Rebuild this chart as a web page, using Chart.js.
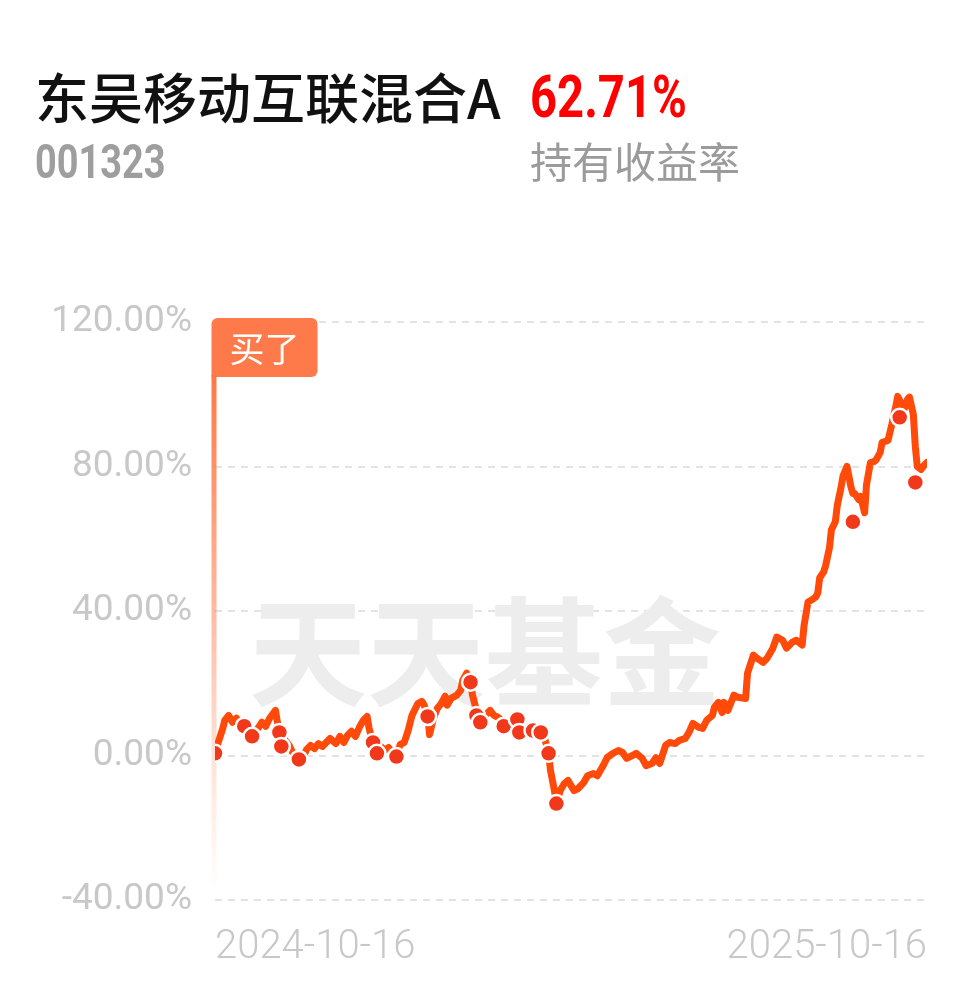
<!DOCTYPE html>
<html>
<head>
<meta charset="utf-8">
<script src="https://cdn.jsdelivr.net/npm/chart.js@4.4.1/dist/chart.umd.min.js"></script>
<style>
  html, body { margin: 0; padding: 0; background: #fff; }
  #wrap { position: relative; width: 978px; height: 986px; overflow: hidden; background: #fff; }
  #c { position: absolute; left: 0; top: 0; }
  .t { position: absolute; white-space: nowrap; line-height: 1; }
  #name { left: 35px; top: 56px; font: 500 54px "Noto Sans CJK SC", sans-serif; color: #111; }
  #ret { left: 530px; top: 62px; font: 700 59px Roboto, sans-serif; color: #ff0000; transform: scaleX(0.8); transform-origin: 0 0; }
  #code { left: 35px; top: 133px; font: 700 48px Roboto, sans-serif; color: #9e9e9e; transform: scaleX(0.79); transform-origin: 0 0; }
  #lbl { left: 530px; top: 129px; font: 400 42px "Noto Sans CJK SC", sans-serif; color: #9b9b9b; }
</style>
</head>
<body>
<div id="wrap">
  <canvas id="c" width="978" height="986"></canvas>
  <div class="t" id="name">东吴移动互联混合A</div>
  <div class="t" id="ret">62.71%</div>
  <div class="t" id="code">001323</div>
  <div class="t" id="lbl">持有收益率</div>
</div>
<script>
// ---- data (day offset from 2024-10-16, holding return %) ----
const days = [0,2,4,5,7,9,11,13,15,17,19,22,24,26,28,31,32,34,36,38,40,43,45,47,49,51,53,55,57,59,62,64,66,68,70,72,74,76,78,79,81,83,85,87,89,91,93,95,97,99,101,104,106,107,109,110,112,114,116,118,119,121,124,126,127,129,131,132,134,135,137,139,141,143,145,147,149,151,154,156,158,160,162,165,168,169,171,172,174,175,177,179,181,184,186,189,191,194,196,199,201,204,207,209,211,214,216,219,221,224,226,228,231,233,236,238,241,243,245,248,250,252,255,256,258,260,261,263,266,268,272,273,276,278,281,283,286,288,291,293,296,298,301,302,304,306,308,309,310,312,313,315,316,318,319,321,322,324,326,327,328,330,331,333,334,336,338,339,341,342,345,347,349,350,352,353,355,356,358,359,360,362,363,365];
const returns = [0.6,4.2,7.5,9.7,11.1,9.2,10.3,8.6,8.1,6.4,5.8,7.5,9.2,8.1,10.3,12.5,9.2,5.6,4.2,2.8,0.6,-0.8,-0.6,1.7,2.8,1.9,3.3,2.5,3.6,4.7,3.3,5.3,3.6,5.6,6.7,5.3,7.8,9.7,10.8,7.5,3.6,1.4,2.5,1.4,2.2,0.8,0.3,3.1,3.6,6.9,11.1,14.4,15.0,14.2,11.4,5.8,10.3,13.1,14.4,16.4,13.9,15.8,16.7,18.1,20.8,22.8,20.8,16.7,12.5,9.7,10.3,11.4,12.5,11.1,10.6,9.7,8.6,9.2,10.3,7.5,6.4,6.7,7.2,6.9,6.1,4.7,0.8,-4.2,-9.7,-13.3,-9.7,-7.8,-6.9,-9.7,-9.2,-7.5,-5.6,-5.0,-5.6,-2.8,-0.6,0.6,1.4,0.8,-0.8,0,0.6,-0.8,-2.8,-2.2,-0.6,-2.2,2.8,3.6,3.3,4.2,4.7,6.4,8.9,7.8,7.5,9.7,11.1,13.3,14.7,11.9,14.7,12.5,16.7,16.1,15.8,22.8,27.8,26.9,25.8,26.9,29.7,32.8,31.9,29.7,31.4,31.9,30.6,36.1,42.5,43.1,43.9,45.0,49.2,50.8,52.5,57.5,62.5,64.7,69.2,74.4,77.5,80.0,74.4,72.5,72.5,70.8,71.7,67.2,75.0,81.1,81.4,81.9,83.9,86.7,87.2,91.7,96.7,99.4,97.2,95.3,98.6,99.2,94.4,85.6,80.0,79.2,80.0,81.1];
// trade markers
const markerDays = [0,15,19,33,34,43,81,83,93,109,131,134,136,148,155,156,163,167,171,175,327,351,359];
const markerReturns = [0.6,8.1,5.3,6.4,2.5,-1.1,3.6,0.6,-0.3,10.8,20.3,11.1,9.2,8.1,10.0,6.4,6.9,6.4,0.6,-13.3,64.7,93.6,75.6];
const xTickLabels = ['2024-10-16', '2025-10-16'];
const yTicks = [-40, 0, 40, 80, 120];
const buyLabel = '买了';
const watermark = '天天基金';

const linePts = days.map((d, i) => ({ x: d, y: returns[i] }));
const markerPts = markerDays.map((d, i) => ({ x: d, y: markerReturns[i] }));

const watermarkPlugin = {
  id: 'wm',
  beforeDatasetsDraw(chart) {
    const { ctx } = chart;
    ctx.save();
    ctx.font = '700 118px "Noto Sans CJK SC", sans-serif';
    ctx.fillStyle = '#ededed';
    ctx.textAlign = 'center';
    ctx.textBaseline = 'middle';
    ctx.fillText(watermark, 485, 652);
    ctx.restore();
  }
};

const buyPlugin = {
  id: 'buy',
  beforeDatasetsDraw(chart) {
    const { ctx, chartArea, scales } = chart;
    const x = scales.x.getPixelForValue(days[0]) - 1;
    const top = chartArea.top - 4;
    const boxH = 59, boxW = 106;
    const g = ctx.createLinearGradient(0, top + boxH, 0, chartArea.bottom - 10);
    g.addColorStop(0, 'rgba(255,120,70,1)');
    g.addColorStop(0.7, 'rgba(255,120,70,0.25)');
    g.addColorStop(1, 'rgba(255,120,70,0)');
    ctx.save();
    ctx.fillStyle = g;
    ctx.fillRect(x - 2.5, top + boxH - 2, 5, chartArea.bottom - 10 - (top + boxH - 2));
    ctx.fillStyle = '#ff7a4a';
    ctx.beginPath();
    ctx.roundRect(x - 2.5, top, boxW, boxH, [6, 6, 6, 0]);
    ctx.fill();
    ctx.fillStyle = '#ffffff';
    ctx.font = '400 35px "Noto Sans CJK SC", sans-serif';
    ctx.textAlign = 'center';
    ctx.textBaseline = 'middle';
    ctx.fillText(buyLabel, x - 2.5 + boxW / 2, top + boxH / 2 + 1);
    ctx.restore();
  }
};

new Chart(document.getElementById('c'), {
  type: 'line',
  data: {
    datasets: [
      {
        type: 'scatter',
        data: markerPts,
        showLine: false,
        pointRadius: 8.5,
        pointBackgroundColor: '#f2381a',
        pointBorderColor: '#ffffff',
        pointBorderWidth: 2.5,
        order: 0
      },
      {
        data: linePts,
        borderColor: '#ff4a0a',
        borderWidth: 7,
        pointRadius: 0,
        tension: 0,
        borderJoinStyle: 'round',
        borderCapStyle: 'round',
        fill: false,
        order: 1
      }
    ]
  },
  options: {
    responsive: false,
    devicePixelRatio: 1,
    animation: false,
    events: [],
    layout: { padding: { top: 322, right: 51, left: 0, bottom: 0 } },
    plugins: { legend: { display: false }, tooltip: { enabled: false } },
    scales: {
      x: {
        type: 'linear',
        min: days[0],
        max: days[days.length - 1],
        grid: { display: false, drawTicks: false },
        border: { display: false },
        afterBuildTicks(scale) {
          scale.ticks = [{ value: days[0] }, { value: days[days.length - 1] }];
        },
        afterFit(scale) { scale.height = 86; },
        ticks: {
          align: 'inner',
          maxRotation: 0,
          autoSkip: false,
          padding: 24,
          color: '#c8c8c8',
          font: { family: 'Roboto', size: 40, weight: '300' },
          callback(v, i) { return xTickLabels[i]; }
        }
      },
      y: {
        min: yTicks[0],
        max: yTicks[yTicks.length - 1],
        afterBuildTicks(scale) { scale.ticks = yTicks.map(v => ({ value: v })); },
        afterFit(scale) { scale.width = 215; },
        grid: { color: '#e3e3e3', lineWidth: 2, drawTicks: false },
        border: { display: false, dash: [7, 6] },
        ticks: {
          padding: 23,
          color: '#c8c8c8',
          font: { family: 'Roboto', size: 37, weight: '400' },
          callback(v) { return v.toFixed(2) + '%'; }
        }
      }
    }
  },
  plugins: [watermarkPlugin, buyPlugin]
});
</script>
</body>
</html>
